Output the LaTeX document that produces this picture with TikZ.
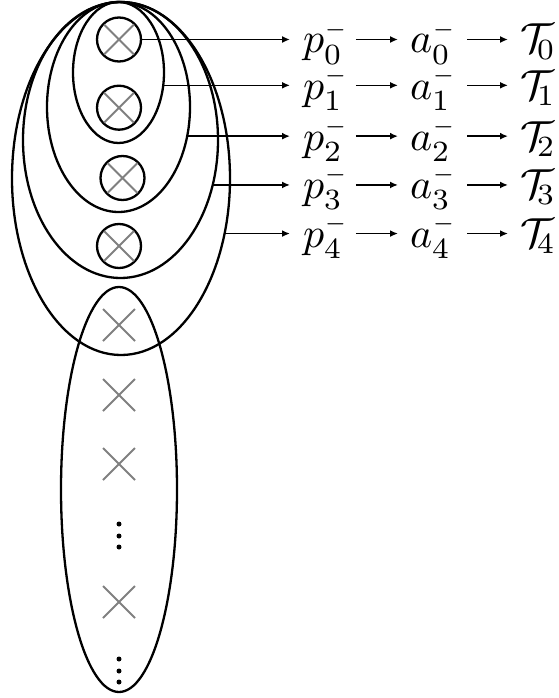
\documentclass[tikz,border=0pt]{standalone}
\usetikzlibrary{shapes.geometric,shapes.misc,arrows.meta}
\begin{document}
\begin{tikzpicture}[x=1pt,y=-1pt,
  oval/.style={draw,ellipse,line width=2.3pt,inner sep=0pt,outer sep=0pt},
  ring/.style={draw,circle,line width=2.3pt,minimum size=44pt,inner sep=0pt,outer sep=0pt},
  crs/.style={draw=gray,cross out,line width=2pt,inner sep=0pt,outer sep=0pt,minimum size=#1},
  crs/.default=32pt,
  lbl/.style={inner sep=0pt,outer sep=0pt,anchor=base west,font=\fontsize{10}{12}\selectfont,scale=4.2},
  link/.style={line width=1.6pt,-{Latex[length=8pt,width=7pt]}},
  dotn/.style={circle,fill,inner sep=0pt,outer sep=0pt,minimum size=5pt}]
\useasboundingbox (0,0) rectangle (558,698);
% ellipses
\node[oval,minimum width=91pt,minimum height=141pt] (A) at (118.5,72.5) {};
\node[oval,minimum width=143pt,minimum height=210pt] (B) at (118.5,107) {};
\node[oval,minimum width=195pt,minimum height=276pt] (C) at (120.5,140) {};
\node[oval,minimum width=218pt,minimum height=353pt] (D) at (121,178.5) {};
\node[oval,minimum width=116pt,minimum height=405pt] (E) at (119,489.5) {};
% circled crosses
\node[ring] (c0) at (119,39.5) {};
\node[ring] (c1) at (119,107.7) {};
\node[ring] (c2) at (122.5,178) {};
\node[ring] (c3) at (119,246) {};
\node[crs=30pt] (x0) at (c0) {};
\node[crs=30pt] (x1) at (c1) {};
\node[crs=30pt] (x2) at (c2) {};
\node[crs=30pt] (x3) at (c3) {};
% lower crosses
\node[crs] (y0) at (119,325) {};
\node[crs] (y1) at (119,395) {};
\node[crs] (y2) at (119,464) {};
\node[crs] (y3) at (119,602) {};
% dots
\node[dotn] (d0) at (119,524) {};
\node[dotn] (d1) at (119,536) {};
\node[dotn] (d2) at (119,547) {};
\node[dotn] (d3) at (119,659) {};
\node[dotn] (d4) at (119,671) {};
\node[dotn] (d5) at (119,682) {};
% row start points
\coordinate (s0) at (c0.east);
\coordinate (s1) at (A.-16.8);
\coordinate (s2) at (B.-23.6);
\coordinate (s3) at (C.-26.1);
\coordinate (s4) at (D.-28.2);
% labels
\foreach \i/\y in {0/53,1/99.5,2/150.5,3/198.5,4/247.5}{
  \node[lbl] (p\i) at (303,\y) {$p_{\i}^{\scriptscriptstyle -}$};
  \node[lbl] (a\i) at (410,\y) {$a_{\i}^{\scriptscriptstyle -}$};
  \node[lbl] (t\i) at (520,\y) {$\mathcal{T}_{\!\i}$};
}
\foreach \i in {0,...,4}{
  \draw[link,shorten >=13pt] (s\i) -- (s\i -| p\i.west);
  \draw[link,shorten <=7pt,shorten >=12pt] (p\i.east |- s\i) -- (a\i.west |- s\i);
  \draw[link,shorten <=10pt,shorten >=12pt] (a\i.east |- s\i) -- (t\i.west |- s\i);
}
\end{tikzpicture}
\end{document}
